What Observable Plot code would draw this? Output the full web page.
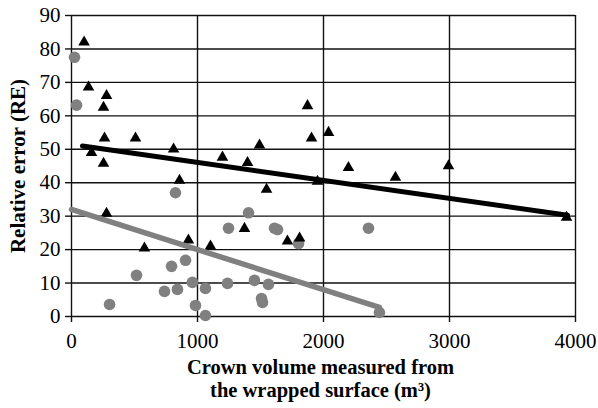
<!DOCTYPE html>
<html><head><meta charset="utf-8">
<script src="https://cdn.jsdelivr.net/npm/d3@7"></script>
<script src="https://cdn.jsdelivr.net/npm/@observablehq/plot@0.6"></script>
<style>
body{margin:0;background:#fff}
#chart svg, #chart svg text{font-family:"Liberation Serif","DejaVu Serif",serif !important;}
</style>
</head><body><div id="chart"></div>
<script>
const xTicks = [0, 1000, 2000, 3000, 4000];
const yTicks = [0, 10, 20, 30, 40, 50, 60, 70, 80, 90];

// Black triangles
const triX = [100, 135, 278, 254, 262, 508, 810, 159, 254, 857, 278, 579, 928, 1873, 1905, 2040, 1492, 1198, 1397, 2198, 2571, 1548, 1952, 1373, 1714, 1810, 1103, 2992, 3929];
const triY = [82, 68.6, 66, 62.5, 53.3, 53.3, 50, 49, 45.8, 40.7, 30.8, 20.4, 22.8, 63, 53.3, 55, 51.2, 47.6, 46, 44.5, 41.6, 38, 40.4, 26.3, 22.5, 23.4, 21, 45, 29.6];

// Grey circles
const cirX = [24, 40, 825, 302, 516, 794, 905, 738, 841, 960, 984, 1063, 1063, 1405, 1246, 1611, 1635, 1802, 2357, 1238, 1452, 1563, 1508, 1516, 2444];
const cirY = [77.5, 63.2, 37, 3.6, 12.3, 15, 16.8, 7.5, 8.1, 10.2, 3.3, 8.4, 0.3, 31, 26.4, 26.4, 26, 21.8, 26.4, 9.9, 10.8, 9.6, 5.4, 4.2, 1.2];

// Trend line endpoints
const blackLineX = [87, 3937];
const blackLineY = [51, 30.3];
const grayLineX = [0, 2444];
const grayLineY = [32, 2.7];

const xLabel = "Crown volume measured from\nthe wrapped surface (m³)";
const yLabel = "Relative error (RE)";

const tris = triX.map((x, i) => ({x, y: triY[i]}));
const cirs = cirX.map((x, i) => ({x, y: cirY[i]}));
const blackLine = blackLineX.map((x, i) => ({x, y: blackLineY[i]}));
const grayLine = grayLineX.map((x, i) => ({x, y: grayLineY[i]}));

const serif = "'Liberation Serif', 'DejaVu Serif', serif";
const gridColor = "#111";
const fs = 21;
const chart = Plot.plot({
  width: 598, height: 408,
  marginTop: 15, marginLeft: 71, marginRight: 23, marginBottom: 92,
  style: {fontFamily: serif, fontSize: fs + "px", color: "#000", background: "#fff"},
  x: {domain: [0, 4000]},
  y: {domain: [0, 90]},
  marks: [
    Plot.ruleY(yTicks, {stroke: gridColor, strokeWidth: 1.4}),
    Plot.ruleX(xTicks, {stroke: gridColor, strokeWidth: 1.4}),
    Plot.axisY({ticks: yTicks, tickSize: 6, tickPadding: 5, label: null, stroke: gridColor, strokeWidth: 1.4, fontSize: fs, fontFamily: serif, tickFormat: "d"}),
    Plot.axisX({ticks: xTicks, tickSize: 6, tickPadding: 11, label: null, stroke: gridColor, strokeWidth: 1.4, fontSize: fs, fontFamily: serif, tickFormat: "d"}),
    Plot.dot(cirs, {x: "x", y: "y", r: 5.8, fill: "#808080", stroke: "none"}),
    Plot.dot(tris, {x: "x", y: "y", symbol: "triangle", r: 4.3, fill: "#000", stroke: "none"}),
    Plot.line(grayLine, {x: "x", y: "y", stroke: "#808080", strokeWidth: 5.5}),
    Plot.line(blackLine, {x: "x", y: "y", stroke: "#000", strokeWidth: 5}),
    Plot.text([xLabel], {frameAnchor: "bottom", lineAnchor: "middle", textAnchor: "middle", lineHeight: 1.13, dx: -3, dy: 61.5, fontWeight: "bold", fontSize: 20.5, fontFamily: serif, text: d => d}),
    Plot.text([yLabel], {frameAnchor: "left", lineAnchor: "middle", textAnchor: "middle", dx: -53, rotate: -90, fontWeight: "bold", fontSize: fs, fontFamily: serif, text: d => d})
  ]
});
document.getElementById("chart").appendChild(chart);
</script>
</body></html>
